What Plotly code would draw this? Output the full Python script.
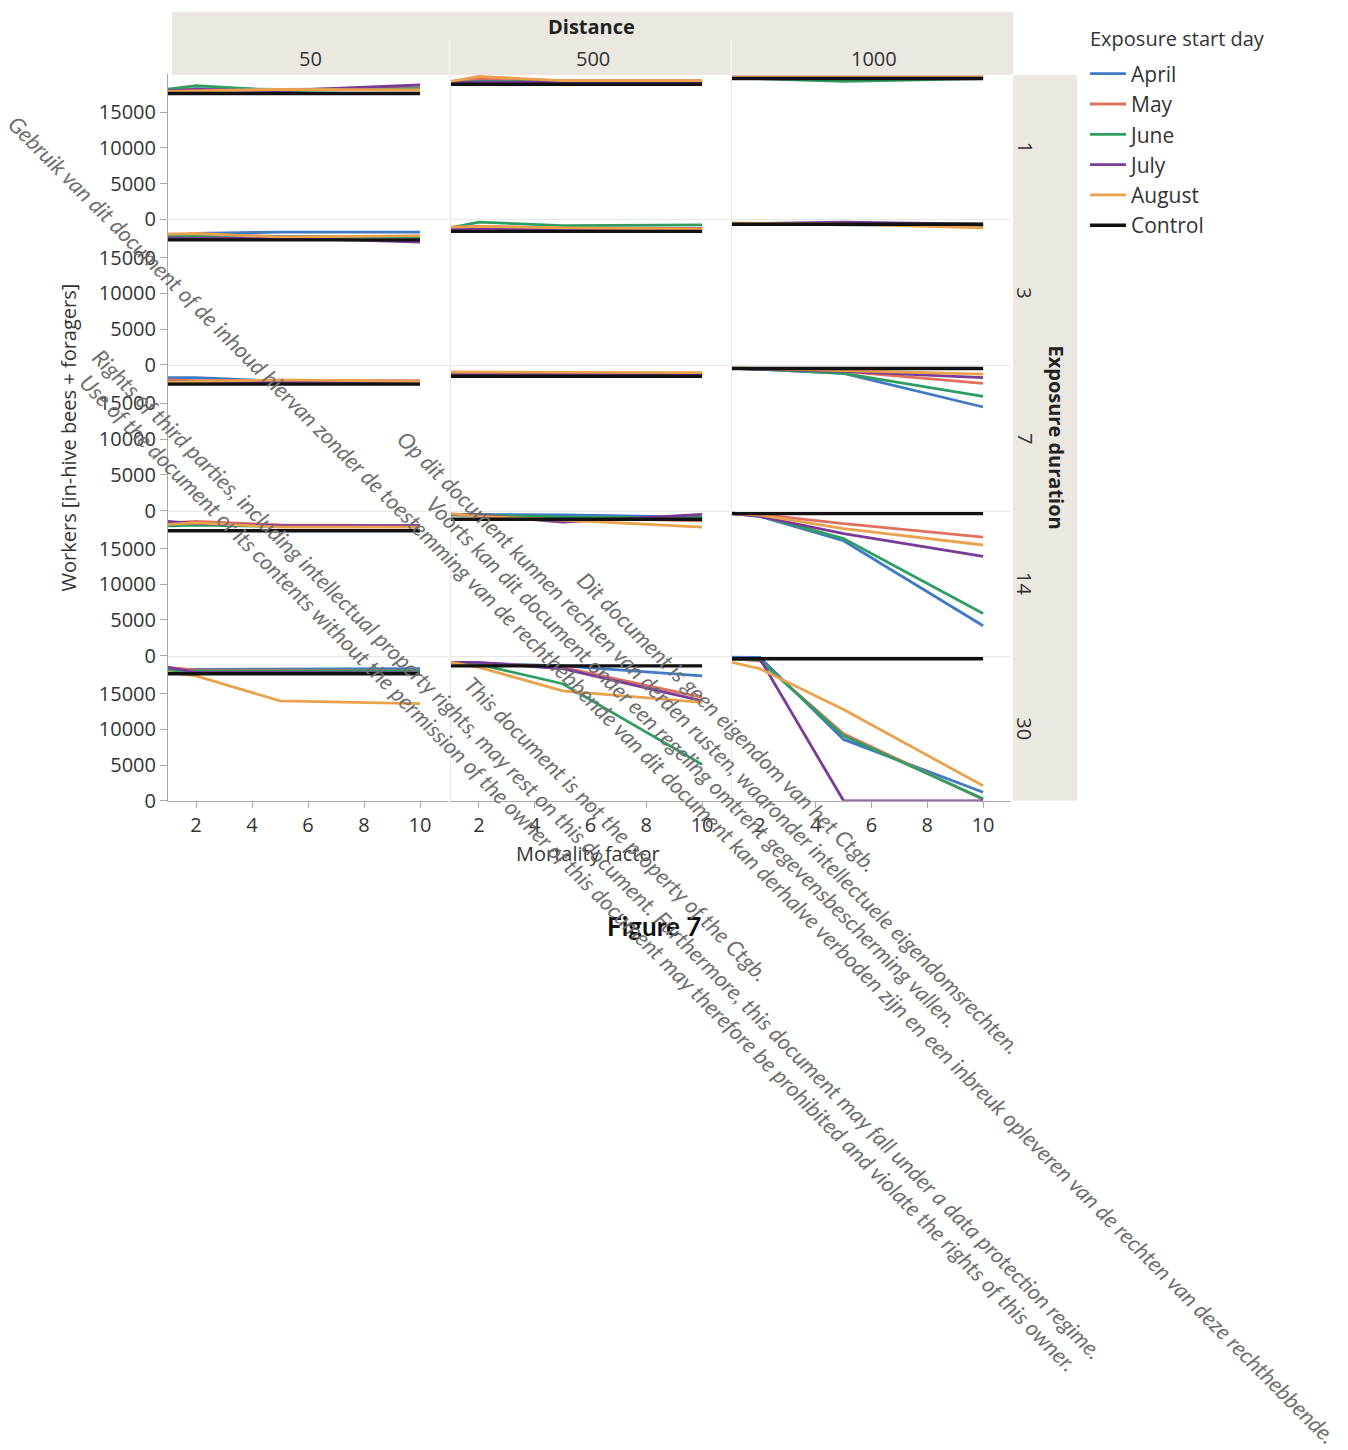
import plotly.graph_objects as go

W, H = 1348, 1450

# ---------------------------------------------------------------- data
mortality_factor = [1, 2, 5, 10]
exposure_durations = [1, 3, 7, 14, 30]
distances = [50, 500, 1000]
start_days = ["April", "May", "June", "July", "August", "Control"]
y_ticks = [0, 5000, 10000, 15000]
x_ticks = [2, 4, 6, 8, 10]

# Workers per exposure duration (rows: 1, 3, 7, 14, 30 days), values at mortality factor 1, 2, 5, 10
# distance 50
april_50 = [[18000, 18300, 18200, 18300], [18000, 18400, 18600, 18600], [18600, 18600, 18100, 18100],
            [18300, 18400, 18200, 18200], [18400, 18400, 18500, 18500]]
may_50 = [[18200, 18200, 18100, 18400], [18300, 18200, 18000, 18000], [18300, 18200, 18200, 18200],
          [18600, 18800, 18300, 18200], [18700, 18300, 18300, 18200]]
june_50 = [[18200, 18700, 18000, 18300], [18000, 18000, 17900, 17900], [18100, 18000, 18000, 18000],
           [18200, 18300, 18100, 18100], [18200, 18200, 18200, 18200]]
july_50 = [[18000, 18200, 18000, 18800], [17800, 17700, 17800, 17200], [18000, 18000, 18000, 17900],
           [18800, 18500, 18200, 18200], [18700, 18000, 18000, 17900]]
august_50 = [[17900, 18000, 18200, 18100], [18300, 18400, 17900, 18100], [18000, 18100, 18300, 18100],
             [18400, 18600, 18000, 18000], [18000, 17500, 14000, 13600]]
control_50 = [[17600] * 4, [17500] * 4, [17700] * 4, [17500] * 4, [17800] * 4]

# distance 500
april_500 = [[19200, 19400, 19300, 19300], [19000, 19300, 19100, 19100], [19200, 19200, 19200, 19100],
             [19800, 19800, 19700, 19400], [19400, 19300, 18900, 17500]]
may_500 = [[19300, 19700, 19400, 19400], [19200, 19400, 19200, 19100], [19300, 19300, 19300, 19200],
           [19800, 19600, 19300, 18900], [19400, 19300, 18700, 14500]]
june_500 = [[19100, 19300, 19200, 19300], [19200, 20000, 19500, 19600], [19100, 19200, 19200, 19100],
            [19700, 19700, 19400, 19300], [19400, 19100, 16400, 5100]]
july_500 = [[19100, 19200, 19200, 19200], [19000, 19000, 18900, 19000], [19100, 19100, 19100, 19100],
            [19800, 19700, 18700, 19800], [19400, 19400, 18500, 14000]]
august_500 = [[19300, 20000, 19400, 19400], [19300, 19400, 19200, 19000], [19400, 19400, 19300, 19300],
              [19900, 19500, 19000, 18000], [19400, 18700, 15400, 13800]]
control_500 = [[18900] * 4, [18700] * 4, [18800] * 4, [19100] * 4, [18900] * 4]

# distance 1000
april_1000 = [[19900, 19900, 19800, 19900], [19800, 19800, 19600, 19500], [19900, 19800, 19200, 14500],
              [19900, 19500, 16100, 4200], [20200, 20100, 8600, 1200]]
may_1000 = [[19900, 19900, 19900, 19900], [19800, 19800, 19700, 19400], [19900, 19800, 19500, 17800],
            [19900, 19800, 18500, 16600], [19900, 19600, 9400, 200]]
june_1000 = [[19800, 19700, 19300, 19700], [19800, 19800, 19700, 19500], [19900, 19800, 19200, 16000],
             [20000, 19600, 16400, 5900], [19900, 19700, 9100, 300]]
july_1000 = [[19800, 19800, 19800, 19800], [19800, 19800, 20000, 19700], [19900, 19800, 19500, 18600],
             [19900, 19500, 17100, 13900], [19900, 19900, 0, 0]]
august_1000 = [[19900, 19900, 19900, 19900], [19900, 19800, 19700, 19200], [20000, 19900, 19600, 19100],
               [19900, 19700, 17800, 15500], [19400, 18500, 12800, 2100]]
control_1000 = [[19700] * 4, [19700] * 4, [19900] * 4, [19900] * 4, [19900] * 4]

series_by_distance = {
    50: [april_50, may_50, june_50, july_50, august_50, control_50],
    500: [april_500, may_500, june_500, july_500, august_500, control_500],
    1000: [april_1000, may_1000, june_1000, july_1000, august_1000, control_1000],
}

line_colors = ["#4079c4", "#e2705f", "#2f9e62", "#7a3b96", "#eba24f", "#111111"]
line_widths = [2.8, 2.8, 2.8, 2.8, 2.8, 3.4]

# ---------------------------------------------------------------- layout helpers (pixels -> paper)
PAPER_H = 1435.5  # height of the drawable paper area in pixels


def fx(px):
    return px / W


def fy(py):
    return 1 - py / PAPER_H


col_px = [(168, 448), (451, 730), (732, 1011)]
row_zero_px = [219, 364.5, 510, 655, 800]
row_h = 145
y_max = row_h / 7.133 * 1000

FONT = "Open Sans"
TXT = "#333333"
STRIP = "#ebe8e2"

fig = go.Figure()
layout = {}

for r, dur in enumerate(exposure_durations):
    for c, dist in enumerate(distances):
        idx = r * 3 + c + 1
        xname = "x" if idx == 1 else f"x{idx}"
        yname = "y" if idx == 1 else f"y{idx}"
        for k, day in enumerate(start_days):
            fig.add_trace(go.Scatter(
                x=mortality_factor,
                y=series_by_distance[dist][k][r],
                mode="lines",
                name=day,
                legendgroup=day,
                showlegend=(idx == 1),
                line=dict(color=line_colors[k], width=line_widths[k]),
                xaxis=xname, yaxis=yname,
                hovertemplate=f"{day}<br>Distance {dist}, duration {dur}<br>"
                              "Mortality factor %{x}<br>Workers %{y}<extra></extra>",
            ))
        bottom = r == len(exposure_durations) - 1
        left = c == 0
        layout["xaxis" if idx == 1 else f"xaxis{idx}"] = dict(
            domain=[fx(col_px[c][0]), fx(col_px[c][1])],
            anchor=yname, range=[1, 11],
            tickvals=x_ticks, showticklabels=bottom,
            ticks="outside" if bottom else "", ticklen=6, tickcolor="#a8a8a8",
            tickfont=dict(family=FONT, size=20, color=TXT),
            showgrid=False, zeroline=False,
            showline=True, linewidth=1,
            linecolor="#a9a9a9" if bottom else "#e6e6e6",
            fixedrange=True,
        )
        layout["yaxis" if idx == 1 else f"yaxis{idx}"] = dict(
            domain=[fy(row_zero_px[r]), fy(row_zero_px[r] - row_h)],
            anchor=xname, range=[0, y_max],
            tickvals=y_ticks, tickformat="d", showticklabels=left,
            ticks="outside" if left else "", ticklen=7, tickcolor="#a8a8a8",
            tickfont=dict(family=FONT, size=20, color=TXT),
            showgrid=False, zeroline=False,
            showline=True, linewidth=1,
            linecolor="#a9a9a9" if left else "#e6e6e6",
            fixedrange=True,
        )

# facet strips
shapes = [
    dict(type="rect", xref="paper", yref="paper", layer="below",
         x0=fx(172), x1=fx(1013), y0=fy(75), y1=fy(12), fillcolor=STRIP, line_width=0),
    dict(type="rect", xref="paper", yref="paper", layer="below",
         x0=fx(1013), x1=fx(1077), y0=fy(800), y1=fy(75), fillcolor=STRIP, line_width=0),
]
for sx in (449.5, 731):
    shapes.append(dict(type="line", xref="paper", yref="paper", x0=fx(sx), x1=fx(sx),
                       y0=fy(75), y1=fy(40), line=dict(color="#f7f6f3", width=1.5)))

annotations = [
    dict(text="<b>Distance</b>", x=fx(591), y=fy(26), font=dict(size=20, color="#222222")),
    dict(text="Workers [in-hive bees + foragers]", x=fx(68), y=fy(437), textangle=-90,
         font=dict(size=20, color=TXT)),
    dict(text="Mortality factor", x=fx(588), y=fy(853), font=dict(size=20, color=TXT)),
    dict(text="<b>Exposure duration</b>", x=fx(1057), y=fy(437), textangle=90,
         font=dict(size=20, color="#222222")),
    dict(text="<b>Figure 7</b>", x=fx(654), y=fy(925),
         font=dict(family="Lato", size=26, color="#111111")),
    dict(text="Exposure start day", x=fx(1088), y=fy(38), xanchor="left",
         font=dict(size=20, color=TXT)),
]
for c, dist in enumerate(distances):
    annotations.append(dict(text=str(dist), x=fx((col_px[c][0] + col_px[c][1]) / 2 + 2), y=fy(58),
                            font=dict(size=20, color=TXT)))
for r, dur in enumerate(exposure_durations):
    annotations.append(dict(text=str(dur), x=fx(1025), y=fy(row_zero_px[r] - row_h / 2), textangle=90,
                            font=dict(size=20, color=TXT)))

# diagonal notice lines printed across the page
notices = [
    ("Gebruik van dit document of de inhoud hiervan zonder de toestemming van de rechthebbende van dit "
     "document kan derhalve verboden zijn en een inbreuk opleveren van de rechten van deze rechthebbende.",
     672, 779),
    ("Op dit document kunnen rechten van derden rusten, waaronder intellectuele eigendomsrechten.", 709, 742),
    ("Voorts kan dit document onder een regeling omtrent gegevensbescherming vallen.", 692, 761),
    ("Dit document is geen eigendom van het Ctgb.", 727, 721),
    ("Rights of third parties, including intellectual property rights, may rest on this document. "
     "Furthermore, this document may fall under a data protection regime.", 597, 853),
    ("Use of the document or its contents without the permission of the owner of this document may "
     "therefore be prohibited and violate the rights of this owner.", 578, 872),
    ("This document is not the property of the Ctgb.", 616, 828),
]
for text, cx, cy in notices:
    annotations.append(dict(text=text, x=fx(cx), y=fy(cy), textangle=45,
                            font=dict(family="Lato", size=22, color="#6f6f6f", style="italic")))

for a in annotations:
    a.setdefault("xref", "paper")
    a.setdefault("yref", "paper")
    a.setdefault("showarrow", False)
    a.setdefault("xanchor", "center")
    a.setdefault("yanchor", "middle")

fig.update_layout(
    width=W, height=H, autosize=False,
    margin=dict(l=0, r=0, t=0, b=0),
    paper_bgcolor="white", plot_bgcolor="white",
    font=dict(family=FONT, size=20, color=TXT),
    shapes=shapes, annotations=annotations,
    legend=dict(
        x=fx(1085), y=fy(53.5), xanchor="left", yanchor="top",
        font=dict(size=21, color=TXT), tracegroupgap=0, itemwidth=36,
        bgcolor="rgba(0,0,0,0)",
    ),
    **layout,
)

fig.write_html("out.html")
